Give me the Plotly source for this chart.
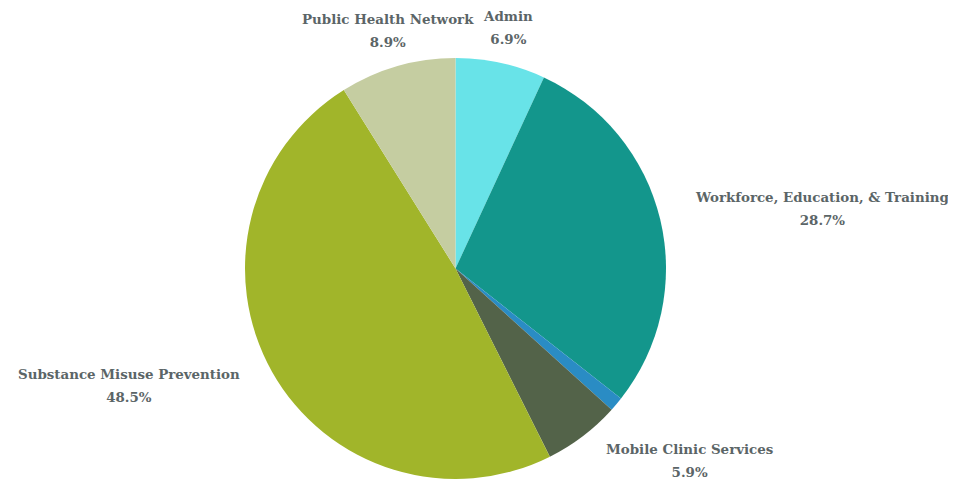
import numpy as np
import plotly.graph_objects as go

labels = ["Admin", "Workforce, Education, & Training", "Other", "Mobile Clinic Services",
          "Substance Misuse Prevention", "Public Health Network"]
values = [6.9, 28.7, 1.1, 5.9, 48.5, 8.9]
colors = ["#68e3e8", "#13968c", "#2a8cc4", "#536349", "#a1b52a", "#c5cda1"]
show_label = [True, True, False, True, True, True]

# page body has an 8px margin, so the figure is drawn 8px smaller and offset
W, H = 948, 475
L, R, T, B = 237, 290, 50, 4
pw, ph = W - L - R, H - T - B
cx = L + pw / 2
cy = T + ph / 2
radius = min(pw, ph) / 2
label_r = radius + 34
label_dy = -2.5

fig = go.Figure(go.Pie(
    labels=labels,
    values=values,
    marker=dict(colors=colors, line=dict(width=0)),
    sort=False,
    direction="clockwise",
    rotation=0,
    textinfo="none",
    showlegend=False,
    hoverinfo="label+percent",
))

total = sum(values)
cum = 0.0
annotations = []
for lab, v, s in zip(labels, values, show_label):
    mid = (cum + v / 2) / total * 2 * np.pi
    cum += v
    if not s:
        continue
    sx, sy = np.sin(mid), -np.cos(mid)
    px = cx + label_r * sx
    py = cy + label_r * sy + label_dy
    if abs(sx) < 0.35:
        xa = "center"
    elif sx > 0:
        xa = "left"
    else:
        xa = "right"
    pct = f"{v / total * 100:.1f}%"
    txt = (f"<span style='font-size:13.4px'><b>{lab}</b></span><br>"
           f"<span style='font-size:13.4px'><b>{pct}</b></span>")
    annotations.append(dict(
        x=(px - L) / pw,
        y=1 - (py - T) / ph,
        xref="paper", yref="paper",
        text=txt,
        showarrow=False,
        xanchor=xa,
        yanchor="middle",
        align="center",
        font=dict(family="DejaVu Serif", size=17.8, color="#5b6567"),
    ))

fig.update_layout(
    width=W, height=H,
    margin=dict(l=L, r=R, t=T, b=B),
    paper_bgcolor="white",
    plot_bgcolor="white",
    annotations=annotations,
)

fig.write_html("out.html")
